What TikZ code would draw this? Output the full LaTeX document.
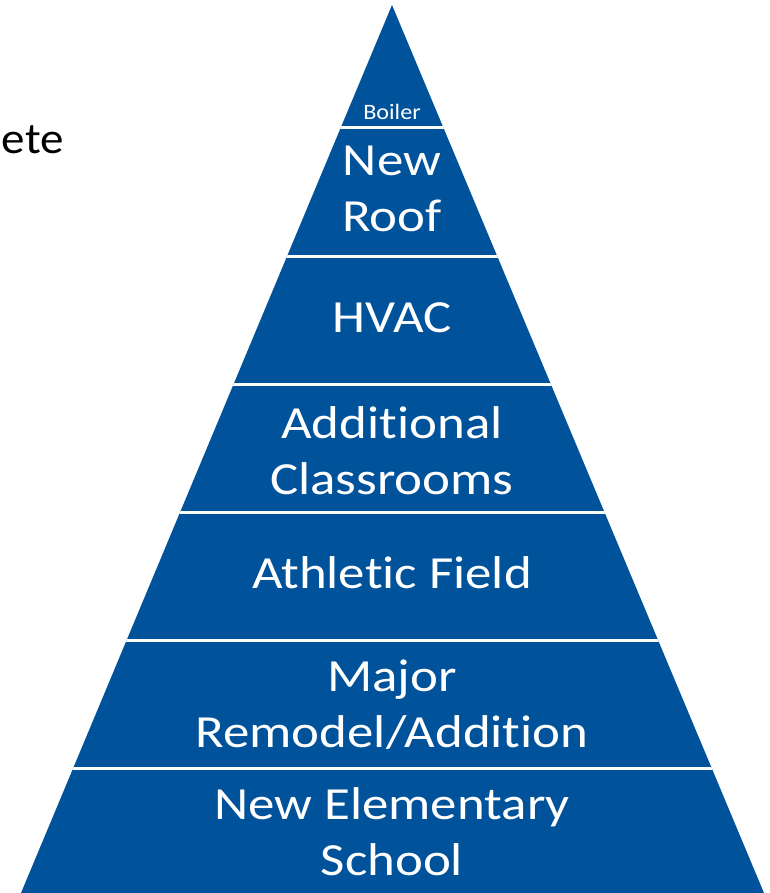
\documentclass[tikz,border=0pt]{standalone}
\usepackage{fontspec}
\setmainfont[Ligatures=NoCommon]{Carlito}
\newfontfamily\tierfont[Ligatures=NoCommon, FakeStretch=1.15]{Carlito}
\newfontfamily\smallfont[Ligatures=NoCommon, FakeStretch=1.1]{Carlito}
\newfontfamily\sidefont[Ligatures=NoCommon, FakeStretch=1.07]{Carlito}
\definecolor{pyrblue}{RGB}{0,82,155}
\tikzset{
  tier/.style={text=white, align=center, inner sep=0pt, font=\tierfont\fontsize{46}{56}\selectfont},
  tiny/.style={text=white, inner sep=0pt, font=\smallfont\fontsize{22}{26}\selectfont},
  divider/.style={white, line width=3pt},
}
\begin{document}
\begin{tikzpicture}[x=1pt,y=-1pt]
\useasboundingbox (0,0) rectangle (769,893);
% pyramid body
\coordinate (apex) at (392,5);
\coordinate (bl) at (21,893);
\coordinate (br) at (764,893);
\fill[pyrblue] (apex) -- (bl) -- (br) -- cycle;
% tier dividers
\begin{scope}
  \clip (apex) -- (bl) -- (br) -- cycle;
  \foreach \y in {128,256,384,512,640,768}
    \draw[divider] (0,\y) -- (769,\y);
\end{scope}
% labels
\node[tiny, anchor=base] (boiler) at (392,120) {Boiler};
\node[tier] (roof) at (392,189) {New\\Roof};
\node[tier] (hvac) at (392,318) {HVAC};
\node[tier] (classrooms) at (392,451) {Additional\\Classrooms};
\node[tier] (field) at (392,573) {Athletic Field};
\node[tier] (remodel) at (392,705) {Major\\Remodel/Addition};
\node[tier] (school) at (392,832) {New Elementary\\School};
% side caption
\node[anchor=base east, inner sep=0pt, font=\sidefont\fontsize{44}{52}\selectfont] (caption) at (64,154) {ete};
\end{tikzpicture}
\end{document}
